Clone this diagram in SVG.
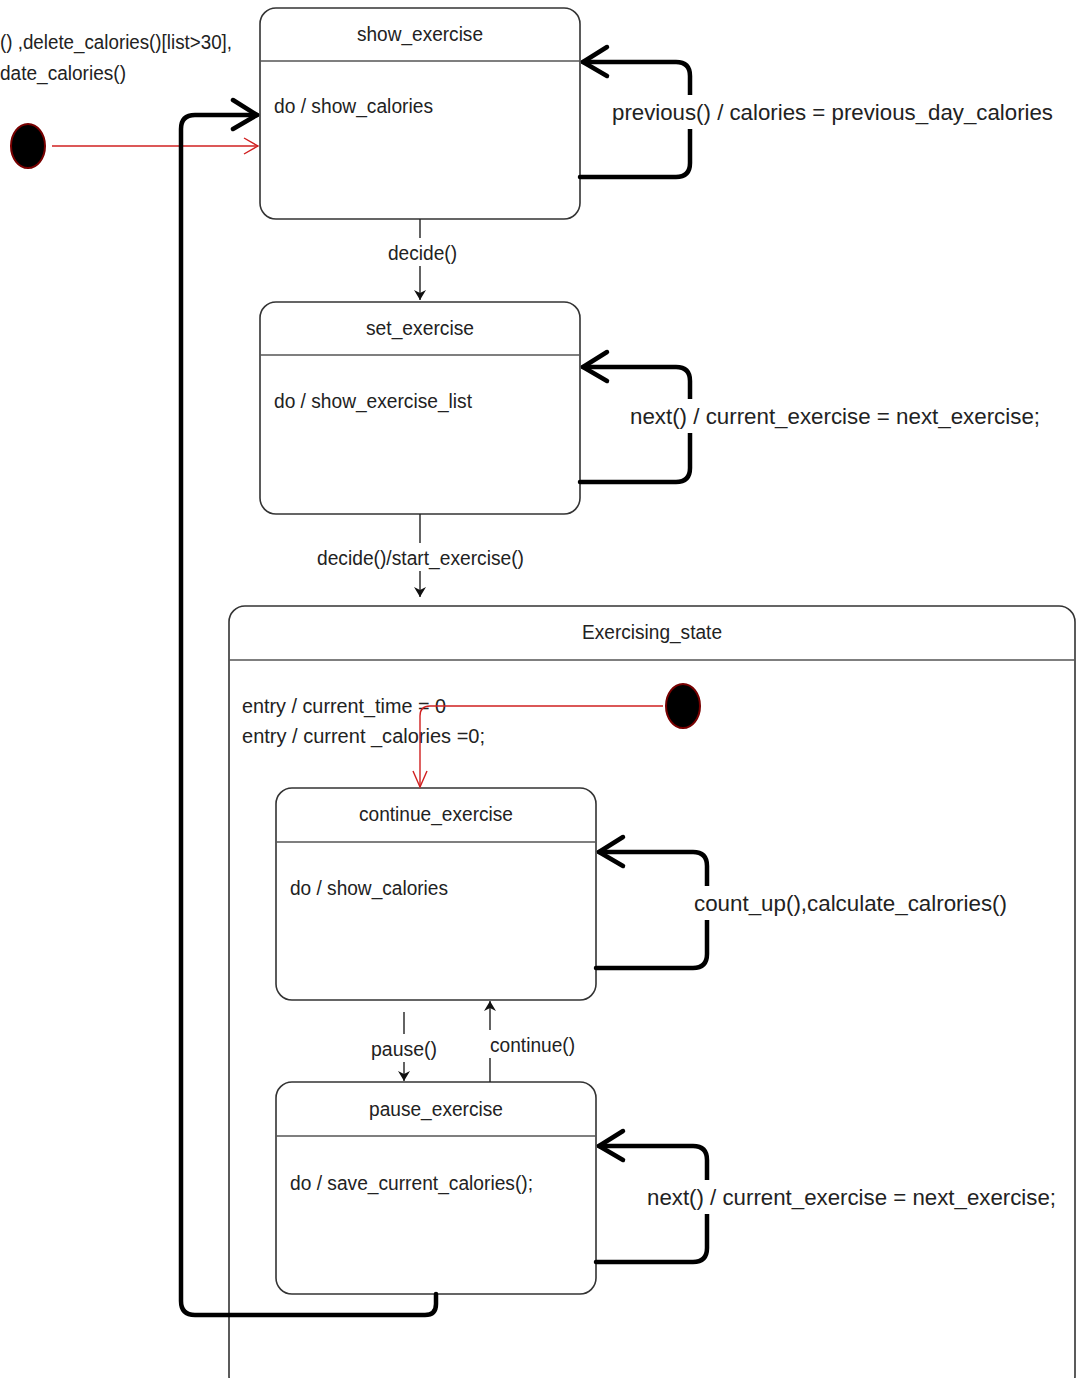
<svg xmlns="http://www.w3.org/2000/svg" width="1078" height="1378" viewBox="0 0 1078 1378">
<defs>
<style>
text{font-family:"Liberation Sans",Arial,sans-serif;fill:#222;}
.t{font-size:20px;}
.b{font-size:22px;}
.box{fill:#fff;stroke:#333;stroke-width:1.6;}
.div{stroke:#555;stroke-width:1.4;}
.thin{fill:none;stroke:#222;stroke-width:1.4;}
.thick{fill:none;stroke:#000;stroke-width:4.5;stroke-linejoin:round;stroke-linecap:round;}
.red{fill:none;stroke:#d02020;stroke-width:1.4;}
.init{fill:#000;stroke:#700;stroke-width:2;}
.bg{fill:#fff;}
</style>
<marker id="ah" markerWidth="12" markerHeight="12" refX="10" refY="6" orient="auto" markerUnits="userSpaceOnUse">
<path d="M0,0 L10,6 L0,12 L3,6 Z" fill="#111"/>
</marker>
</defs>

<g id="top-note">
<text class="t" x="0" y="49" textLength="232" lengthAdjust="spacingAndGlyphs">() ,delete_calories()[list&gt;30],</text>
<text class="t" x="0" y="80" textLength="126" lengthAdjust="spacingAndGlyphs">date_calories()</text>
</g>

<g id="exercising_state">
<rect class="box" x="229" y="606" width="846" height="786" rx="16"/>
<line class="div" x1="229" y1="660" x2="1075" y2="660"/>
<text class="t" x="582" y="639" textLength="140" lengthAdjust="spacingAndGlyphs">Exercising_state</text>
<text class="t" x="242" y="713" textLength="204" lengthAdjust="spacingAndGlyphs">entry /  current_time = 0</text>
<text class="t" x="242" y="743" textLength="243" lengthAdjust="spacingAndGlyphs">entry /  current _calories  =0;</text>
</g>

<g id="initial_top">
<ellipse class="init" cx="28" cy="146" rx="17" ry="22"/>
</g>
<g id="initial_inner">
<ellipse class="init" cx="683" cy="706" rx="17" ry="22"/>
</g>

<g id="show_exercise">
<rect class="box" x="260" y="8" width="320" height="211" rx="16"/>
<line class="div" x1="260" y1="61" x2="580" y2="61"/>
<text class="t" x="357" y="41" textLength="126" lengthAdjust="spacingAndGlyphs">show_exercise</text>
<text class="t" x="274" y="113" textLength="159" lengthAdjust="spacingAndGlyphs">do / show_calories</text>
</g>

<g id="set_exercise">
<rect class="box" x="260" y="302" width="320" height="212" rx="16"/>
<line class="div" x1="260" y1="355" x2="580" y2="355"/>
<text class="t" x="366" y="335" textLength="108" lengthAdjust="spacingAndGlyphs">set_exercise</text>
<text class="t" x="274" y="408" textLength="198" lengthAdjust="spacingAndGlyphs">do / show_exercise_list</text>
</g>

<g id="continue_exercise">
<rect class="box" x="276" y="788" width="320" height="212" rx="16"/>
<line class="div" x1="276" y1="842" x2="596" y2="842"/>
<text class="t" x="359" y="821" textLength="154" lengthAdjust="spacingAndGlyphs">continue_exercise</text>
<text class="t" x="290" y="895" textLength="158" lengthAdjust="spacingAndGlyphs">do / show_calories</text>
</g>

<g id="pause_exercise">
<rect class="box" x="276" y="1082" width="320" height="212" rx="16"/>
<line class="div" x1="276" y1="1136" x2="596" y2="1136"/>
<text class="t" x="369" y="1116" textLength="134" lengthAdjust="spacingAndGlyphs">pause_exercise</text>
<text class="t" x="290" y="1190" textLength="243" lengthAdjust="spacingAndGlyphs">do / save_current_calories();</text>
</g>

<g id="connectors">
<line class="red" x1="52" y1="146" x2="258" y2="146"/>
<path class="red" d="M244,138 L258,146 L244,154"/>
<path class="red" d="M663,706 L430,706 Q420,706 420,716 L420,787"/>
<path class="red" d="M413,771 L420,787 L427,771"/>
<line class="thin" x1="420" y1="219" x2="420" y2="300" marker-end="url(#ah)"/>
<rect class="bg" x="386" y="238" width="73" height="28"/>
<text class="t" x="388" y="260" textLength="69" lengthAdjust="spacingAndGlyphs">decide()</text>
<line class="thin" x1="420" y1="514" x2="420" y2="597" marker-end="url(#ah)"/>
<rect class="bg" x="315" y="543" width="211" height="28"/>
<text class="t" x="317" y="565" textLength="207" lengthAdjust="spacingAndGlyphs">decide()/start_exercise()</text>
<line class="thin" x1="404" y1="1012" x2="404" y2="1081" marker-end="url(#ah)"/>
<rect class="bg" x="369" y="1034" width="70" height="28"/>
<text class="t" x="371" y="1056" textLength="66" lengthAdjust="spacingAndGlyphs">pause()</text>
<line class="thin" x1="490" y1="1082" x2="490" y2="1001" marker-end="url(#ah)"/>
<rect class="bg" x="488" y="1030" width="90" height="28"/>
<text class="t" x="490" y="1052" textLength="85" lengthAdjust="spacingAndGlyphs">continue()</text>
<path class="thick" d="M580,177 L676,177 Q690,177 690,163 L690,76 Q690,62 676,62 L583,62"/>
<path class="thick" d="M607,47 L583,62 L607,76"/>
<rect class="bg" x="608" y="95" width="448" height="34"/>
<text class="b" x="612" y="120" textLength="441" lengthAdjust="spacingAndGlyphs">previous() / calories = previous_day_calories</text>
<path class="thick" d="M580,482 L676,482 Q690,482 690,468 L690,381 Q690,367 676,367 L583,367"/>
<path class="thick" d="M607,352 L583,367 L607,381"/>
<rect class="bg" x="626" y="399" width="418" height="34"/>
<text class="b" x="630" y="424" textLength="410" lengthAdjust="spacingAndGlyphs">next() / current_exercise = next_exercise;</text>
<path class="thick" d="M596,968 L693,968 Q707,968 707,954 L707,866 Q707,852 693,852 L599,852"/>
<path class="thick" d="M623,837 L599,852 L623,866"/>
<rect class="bg" x="690" y="886" width="321" height="34"/>
<text class="b" x="694" y="911" textLength="313" lengthAdjust="spacingAndGlyphs">count_up(),calculate_calrories()</text>
<path class="thick" d="M596,1262 L693,1262 Q707,1262 707,1248 L707,1160 Q707,1146 693,1146 L599,1146"/>
<path class="thick" d="M623,1131 L599,1146 L623,1160"/>
<rect class="bg" x="643" y="1180" width="417" height="34"/>
<text class="b" x="647" y="1205" textLength="409" lengthAdjust="spacingAndGlyphs">next() / current_exercise = next_exercise;</text>
<path class="thick" d="M436,1294 L436,1304 Q436,1315 425,1315 L195,1315 Q181,1315 181,1301 L181,129 Q181,115 195,115 L257,115"/>
<path class="thick" d="M233,100 L257,115 L233,129"/>
</g>
</svg>
